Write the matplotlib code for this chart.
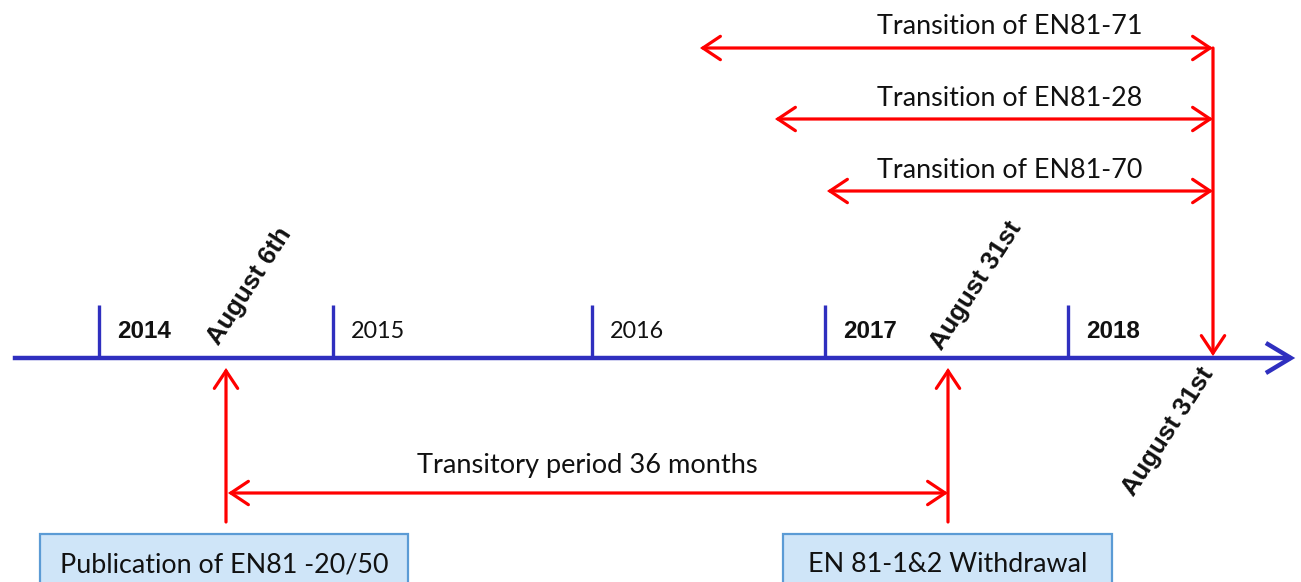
import matplotlib
matplotlib.use("Agg")
import matplotlib.pyplot as plt
from matplotlib.patches import FancyArrowPatch, Rectangle

# ---- data (timeline units along the drawing) ----
years = ['2014', '2015', '2016', '2017', '2018']
year_pos = [99, 333, 592, 825, 1068]
year_bold = [True, False, False, True, True]

event_labels = ['August 6th', 'August 31st', 'August 31st']
event_pos = [226, 948, 1213]

transition_labels = ['Transition of EN81-71', 'Transition of EN81-28', 'Transition of EN81-70']
transition_start = [700, 775, 827]
transition_row = [48, 119, 191]

period_label = 'Transitory period 36 months'
box_labels = ['Publication of EN81 -20/50', 'EN 81-1&2 Withdrawal']
box_extent = [(40, 408), (783, 1112)]

BLUE = '#2f2fbf'
RED = '#ff0000'
BODY = ['Lato', 'DejaVu Sans']
BOLD = ['Liberation Sans', 'DejaVu Sans']

fig = plt.figure(figsize=(13.01, 5.82), dpi=100)
ax = fig.add_axes([0, 0, 1, 1])
ax.set_xlim(0, 1301)
ax.set_ylim(582, 0)
ax.axis('off')

axis_y = 358

# main timeline
ax.add_patch(FancyArrowPatch((10, axis_y), (1298, axis_y),
                             arrowstyle='->,head_length=1.0,head_width=0.6',
                             mutation_scale=18, lw=3.2, color=BLUE,
                             capstyle='butt', joinstyle='miter'))

# year ticks
for yr, xp, bold in zip(years, year_pos, year_bold):
    ax.plot([xp, xp], [axis_y, 305], color=BLUE, lw=2.4, solid_capstyle='butt')
    ax.text(xp + 18, 331, yr, fontsize=17.5 if bold else 16.8,
            fontweight='bold' if bold else 'normal',
            family=BOLD if bold else BODY, ha='left', va='center', color='#111111')

def arrow(p0, p1, style):
    ax.add_patch(FancyArrowPatch(p0, p1,
                                 arrowstyle=style + ',head_length=0.9,head_width=0.6',
                                 mutation_scale=14, lw=2.3, color=RED,
                                 shrinkA=0, shrinkB=0, joinstyle='miter'))

# up arrows from boxes
for xp in event_pos[:2]:
    arrow((xp, 522), (xp, axis_y + 10), '->')

# down arrow to end
arrow((event_pos[2], transition_row[0]), (event_pos[2], axis_y - 2), '->')

# transitions
for lab, xs, row in zip(transition_labels, transition_start, transition_row):
    arrow((xs, row), (event_pos[2], row), '<->')
    ax.text(1010, row - 21, lab, fontsize=19.4, family=BODY, ha='center',
            va='center', color='#111111')

# transitory period
arrow((event_pos[0] + 2, 493), (event_pos[1], 493), '<->')
ax.text((event_pos[0] + event_pos[1]) / 2, 465, period_label, fontsize=19.6,
        family=BODY, ha='center', va='center', color='#111111')

# rotated date labels
offsets = [(-3, 349), (-2, 354), (-75, 500)]
for lab, xp, (dx, yy) in zip(event_labels, event_pos, offsets):
    ax.text(xp + dx, yy, lab, rotation=57, rotation_mode='anchor',
            ha='left', va='bottom', fontsize=18.5, fontweight='bold',
            family=BOLD, color='#111111')

# boxes
for lab, (x0, x1) in zip(box_labels, box_extent):
    ax.add_patch(Rectangle((x0, 534), x1 - x0, 80, facecolor='#cfe5f8',
                           edgecolor='#5b9bd5', lw=1.6))
    ax.text((x0 + x1) / 2, 565, lab, fontsize=19.4, family=BODY,
            ha='center', va='center', color='#111111')

fig.savefig('out.png', dpi=100)
